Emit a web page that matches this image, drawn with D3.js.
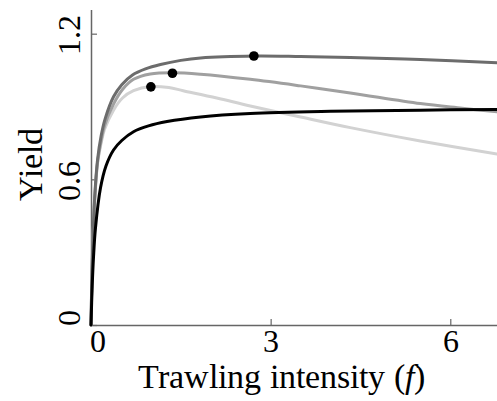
<!DOCTYPE html>
<html><head><meta charset="utf-8">
<script src="https://cdn.jsdelivr.net/npm/d3@7"></script>
<style>
@font-face{font-family:"ChartSerif";font-style:normal;src:local("Liberation Serif"),local("LiberationSerif"),local("LiberationSerif-Regular"),local("Tinos"),local("Tinos-Regular"),local("Times New Roman");}
@font-face{font-family:"ChartSerif";font-style:italic;src:local("Liberation Serif Italic"),local("LiberationSerif-Italic"),local("Tinos Italic"),local("Tinos-Italic"),local("Times New Roman Italic");}
html,body{margin:0;padding:0;background:#fff;font-family:"Liberation Serif",serif;}
svg{display:inline-block;vertical-align:top;}
</style></head>
<body><svg id="c" width="497" height="401" style="font-family:ChartSerif,'Liberation Serif',Tinos,serif"></svg>
<script>
// Data
const xTicks = [0, 3, 6];
const yTicks = [0, 0.6, 1.2];
const yTickLabels = ["0", "0.6", "1.2"];

const blackX = [0, 0.02, 0.042, 0.075, 0.159, 0.25, 0.376, 0.514, 0.71, 0.96, 1.27, 1.83, 2.66, 4.0, 5.5, 6.78];
const blackY = [0, 0.16, 0.28, 0.40, 0.565, 0.655, 0.721, 0.760, 0.796, 0.820, 0.838, 0.857, 0.871, 0.880, 0.885, 0.888];

const darkX = [0, 0.015, 0.033, 0.06, 0.109, 0.17, 0.237, 0.376, 0.514, 0.693, 0.91, 1.16, 1.5, 1.83, 2.73, 3.5, 4.33, 5.5, 6.78];
const darkY = [0, 0.20, 0.36, 0.52, 0.68, 0.78, 0.85, 0.94, 0.99, 1.03, 1.055, 1.073, 1.09, 1.100, 1.108, 1.106, 1.102, 1.094, 1.080];

const medX = [0, 0.015, 0.033, 0.06, 0.109, 0.17, 0.225, 0.376, 0.526, 0.71, 0.99, 1.377, 1.83, 2.66, 3.5, 4.33, 5.5, 6.2, 6.78];
const medY = [0, 0.19, 0.35, 0.51, 0.67, 0.76, 0.82, 0.91, 0.97, 1.012, 1.034, 1.039, 1.033, 1.012, 0.985, 0.956, 0.912, 0.893, 0.878];

const lightX = [0, 0.015, 0.033, 0.06, 0.109, 0.17, 0.225, 0.376, 0.526, 0.71, 0.993, 1.3, 1.54, 2.1, 2.66, 3.5, 4.33, 5.5, 6.78];
const lightY = [0, 0.19, 0.35, 0.505, 0.665, 0.75, 0.805, 0.885, 0.935, 0.965, 0.982, 0.978, 0.965, 0.935, 0.902, 0.857, 0.813, 0.758, 0.704];

const optX = [2.72, 1.36, 1.0];
const optY = [1.108, 1.037, 0.981];

const seriesColors = ["#d2d2d2", "#a0a0a0", "#6c6c6c", "#000000"];

const FONT = "ChartSerif, 'Liberation Serif', Tinos, serif";

const svg = d3.select("#c");
const x = d3.scaleLinear().domain([0, 6.78]).range([91, 497]);
const y = d3.scaleLinear().domain([0, 1.3]).range([325, 9.4]);

// axes
const axisColor = "#666";
const gx = svg.append("g").attr("transform", "translate(0,325)")
  .call(d3.axisBottom(x).tickValues(xTicks).tickSizeInner(-6).tickSizeOuter(0).tickFormat(d3.format("d")));
const gy = svg.append("g").attr("transform", "translate(91,0)")
  .call(d3.axisLeft(y).tickValues(yTicks).tickSizeInner(-6).tickSizeOuter(0).tickFormat((d,i)=>yTickLabels[i]));
[gx, gy].forEach(g => {
  g.attr("font-family", null).attr("font-size", 32);
  g.select(".domain").attr("stroke", axisColor).attr("stroke-width", 1.5);
  g.selectAll(".tick line").attr("stroke", axisColor).attr("stroke-width", 1.2);
  g.selectAll("text").attr("fill", "#000").style("font-family", FONT);
});
gx.selectAll(".tick text").attr("y", 0).attr("dy", "0.85em")
  .attr("dx", d => d === 0 ? 6 : 0);
gy.selectAll(".tick text")
  .attr("x", null).attr("dy", null)
  .attr("text-anchor", "middle")
  .attr("transform", d => `translate(-11,${d === 0 ? -8 : 1}) rotate(-90)`)
  .attr("y", 0);

// curves
const line = d3.line().x(d => x(d[0])).y(d => y(d[1])).curve(d3.curveCatmullRom.alpha(0.5));
const series = [
  d3.zip(lightX, lightY),
  d3.zip(medX, medY),
  d3.zip(darkX, darkY),
  d3.zip(blackX, blackY)
];
svg.append("g").selectAll("path").data(series).join("path")
  .attr("d", line).attr("fill", "none")
  .attr("stroke", (d,i) => seriesColors[i])
  .attr("stroke-width", 3).attr("stroke-linecap", "round");

// optimum dots
svg.append("g").selectAll("circle").data(d3.zip(optX, optY)).join("circle")
  .attr("cx", d => x(d[0])).attr("cy", d => y(d[1])).attr("r", 4.8).attr("fill", "#000");

// axis titles
const xt = svg.append("text").attr("x", 281).attr("y", 388).attr("text-anchor", "middle")
  .style("font-family", FONT).attr("font-size", 34).attr("fill", "#000");
xt.append("tspan").text("Trawling intensity (");
xt.append("tspan").attr("font-style", "italic").text("f");
xt.append("tspan").text(")");

svg.append("text").attr("transform", "translate(42,164) rotate(-90)").attr("text-anchor", "middle")
  .style("font-family", FONT).attr("font-size", 34).attr("fill", "#000").text("Yield");
</script>
</body></html>
